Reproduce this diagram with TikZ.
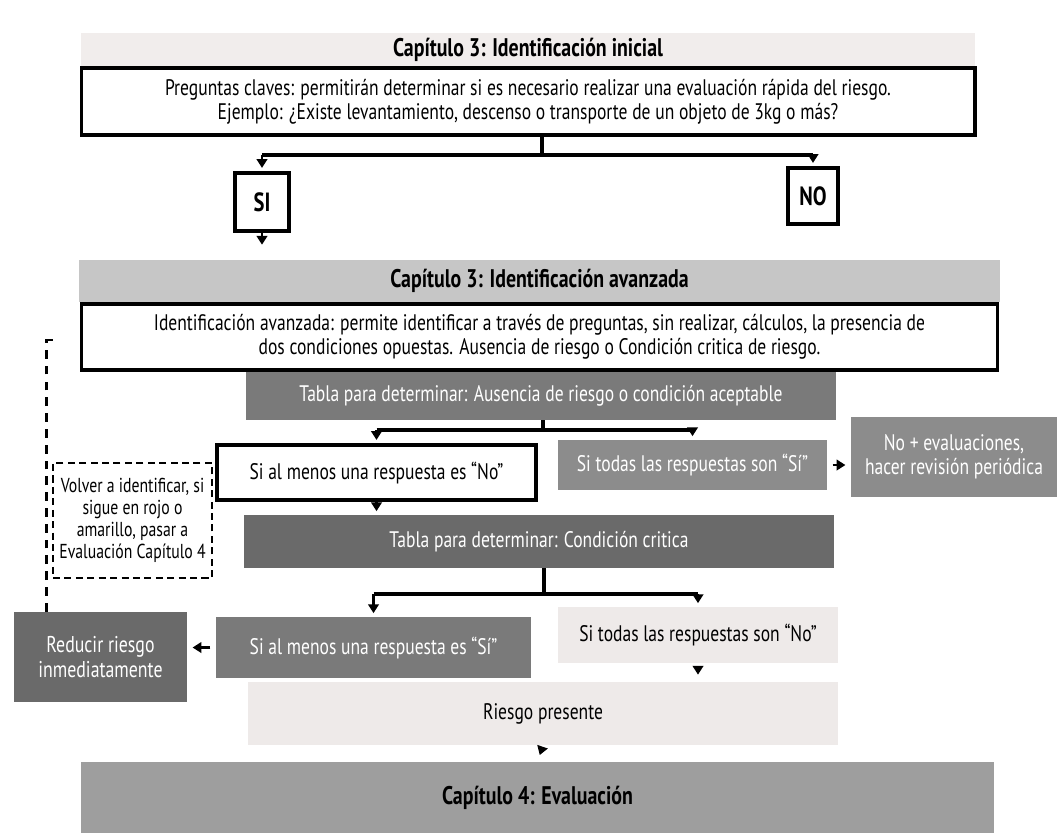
\documentclass[tikz,border=0pt]{standalone}
\usepackage{fontspec}
\setmainfont{PT Sans}[FakeStretch=0.78]
\usepackage{tikz}
\usetikzlibrary{arrows.meta, positioning}
\definecolor{PaleGray}{HTML}{F1EDEC}
\definecolor{BandGray}{HTML}{C6C6C6}
\definecolor{TablaGray}{HTML}{7A7A7A}
\definecolor{DeepGray}{HTML}{6A6A6A}
\definecolor{MidGray}{HTML}{8C8C8C}
\definecolor{LightGray}{HTML}{EEEAE9}
\definecolor{EvalGray}{HTML}{9E9E9E}
\tikzstyle{band} = [rectangle, text centered, font=\fontsize{14.5}{16}\selectfont\bfseries, inner sep=0pt]
\tikzstyle{whitebox} = [rectangle, align=center, draw=black, line width=1.8pt, fill=white]
\tikzstyle{darkbox} = [rectangle, align=center, fill=TablaGray, text=white]
\tikzstyle{lightbox} = [rectangle, align=center, fill=LightGray]
\tikzstyle{dashbox} = [rectangle, align=center, draw=black, line width=1.6pt, dash pattern=on 4pt off 2.5pt]
\tikzstyle{arrow} = [line width=1.2pt, -{Triangle[width=6pt,length=5pt]}]
\tikzstyle{branch} = [line width=2pt]
\tikzstyle{loopline} = [line width=1.6pt, dash pattern=on 5pt off 4pt]
\newcommand{\smalltext}{\fontsize{11.5}{12.6}\selectfont}

\begin{document}
\fontsize{12.8}{13.6}\selectfont
\begin{tikzpicture}[x=0.02cm, y=-0.02cm]
  \useasboundingbox (0,0) rectangle (1064,833);

  \node (inicial) [band, fill=PaleGray, minimum width=17.88cm, minimum height=0.66cm] at (528,49.5) {Capítulo 3: Identificación inicial};
  \node (preguntas) [whitebox, below=0pt of inicial, minimum width=17.88cm, minimum height=1.34cm] {Preguntas claves: permitirán determinar si es necesario realizar una evaluación rápida del riesgo.\\ Ejemplo: ¿Existe levantamiento, descenso o transporte de un objeto de 3kg o más?};

  \node (si) [whitebox, font=\fontsize{15}{16}\selectfont\bfseries, minimum width=1.08cm, minimum height=1.16cm] at (262,202) {SI};
  \node (no) [whitebox, font=\fontsize{15}{16}\selectfont\bfseries, minimum width=1.0cm, minimum height=1.12cm] at (813,196) {NO};

  \node (avanzada) [band, fill=BandGray, minimum width=18.42cm, minimum height=0.84cm] at (539.5,281) {Capítulo 3: Identificación avanzada};
  \node (identif) [whitebox, below=0pt of avanzada, minimum width=18.32cm, minimum height=1.32cm] {Identificación avanzada: permite identificar a través de preguntas, sin realizar, cálculos, la presencia de\\ dos condiciones opuestas. Ausencia de riesgo o Condición critica de riesgo.};

  \node (tabla1) [darkbox, minimum width=11.8cm, minimum height=0.96cm] at (541,396) {Tabla para determinar: Ausencia de riesgo o condición aceptable};
  \node (almenosno) [whitebox, minimum width=6.38cm, minimum height=1.1cm] at (376.5,472.5) {Si al menos una respuesta es “No”};
  \node (todassi) [darkbox, fill=MidGray, minimum width=5.38cm, minimum height=1.0cm] at (692.5,465) {Si todas las respuestas son “Sí”};
  \node (nomas) [darkbox, fill=MidGray, minimum width=4.12cm, minimum height=1.6cm, inner sep=1pt] at (954,457) {No + evaluaciones,\\ hacer revisión periódica};
  \node (volver) [dashbox, font=\smalltext, minimum width=3.18cm, minimum height=2.3cm, inner sep=1pt] at (132.5,520.5) {Volver a identificar, si\\ sigue en rojo o\\ amarillo, pasar a\\ Evaluación Capítulo 4};

  \node (tabla2) [darkbox, fill=DeepGray, minimum width=11.8cm, minimum height=1.06cm] at (539,541.5) {Tabla para determinar: Condición critica};
  \node (almenossi) [darkbox, minimum width=6.3cm, minimum height=1.22cm] at (373.5,647.5) {Si al menos una respuesta es “Sí”};
  \node (todasno) [lightbox, minimum width=5.6cm, minimum height=1.12cm] at (698,635) {Si todas las respuestas son “No”};
  \node (reducir) [darkbox, fill=DeepGray, minimum width=3.46cm, minimum height=1.8cm, font=\fontsize{13}{14.5}\selectfont] at (100.5,657) {Reducir riesgo\\ inmediatamente};
  \node (riesgo) [lightbox, minimum width=11.8cm, minimum height=1.26cm] at (543,713.5) {Riesgo presente};
  \node (evaluacion) [band, fill=EvalGray, minimum width=18.26cm, minimum height=1.42cm] at (537.5,797.5) {Capítulo 4: Evaluación};

  \coordinate (split1) at (542,155);
  \coordinate (split2) at (543,430);
  \coordinate (split3) at (544,594);
  \coordinate (backtop) at (58,340);

  \draw [branch] (split1 |- preguntas.south) -- (split1);
  \draw [branch] (si |- split1) -- (no |- split1);
  \draw [arrow, shorten >=2pt] (si |- split1) -- (si.north);
  \draw [arrow, shorten >=2pt] (no |- split1) -- (no.north);
  \draw [arrow, shorten >=8.5pt] (si.south) -- (si |- avanzada.north);

  \draw [branch] (split2 |- tabla1.south) -- (split2);
  \draw [branch] (almenosno |- split2) -- (split2 -| todassi);
  \draw [arrow, shorten >=2pt] (almenosno |- split2) -- (almenosno.north);
  \draw [arrow, shorten >=2pt] (todassi |- split2) -- (todassi.north);
  \draw [arrow, shorten <=3pt, shorten >=3pt] (todassi.east) -- (todassi.east -| nomas.west);
  \draw [arrow, shorten >=2pt] (almenosno.south) -- (almenosno.south |- tabla2.north);

  \draw [branch] (split3 |- tabla2.south) -- (split3);
  \draw [branch] (almenossi |- split3) -- (split3 -| todasno);
  \draw [arrow, shorten >=2pt] (almenossi |- split3) -- (almenossi.north);
  \draw [arrow, shorten >=2pt] (todasno |- split3) -- (todasno.north);
  \draw [arrow, shorten <=3pt, shorten >=3pt] (almenossi.west) -- (almenossi.west -| reducir.east);
  \draw [arrow, shorten <=2pt, shorten >=4pt] (todasno.south) -- (todasno.south |- riesgo.north);
  \draw [arrow, shorten <=2pt, shorten >=4pt] (riesgo.south) -- (evaluacion.north);

  \draw [loopline] ([xshift=0.66cm]reducir.north west) |- (backtop);

\end{tikzpicture}
\end{document}
